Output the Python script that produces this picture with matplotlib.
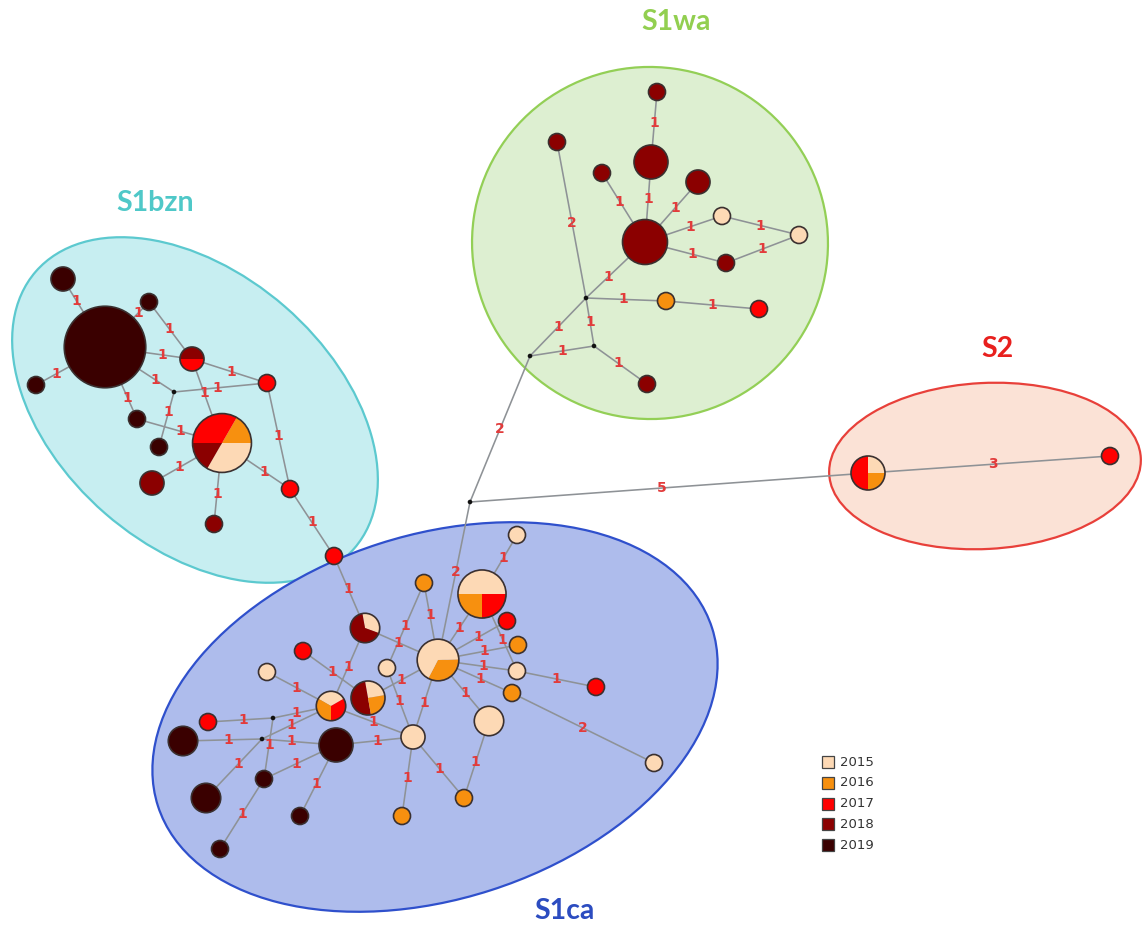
import numpy as np
import matplotlib.pyplot as plt
from matplotlib.patches import Circle, Wedge, Ellipse

# sampling years and their colours
years = ['2015', '2016', '2017', '2018', '2019']
year_colors = ['#FDD9B5', '#F7900F', '#FF0000', '#8B0000', '#3A0000']

# haplotypes: id, position, (year, count) slices in drawing order, start angle of first slice
node_id = ['bz1', 'bz2', 'bz3', 'bz4', 'bz5', 'bz6', 'bz7', 'bz8', 'bz9', 'bz10', 'bz11', 'bz12', 'bz13',
           'wa1', 'wa2', 'wa3', 'wa4', 'wa5', 'wa6', 'wa7', 'wa8', 'wa9', 'wa10', 'wa11', 'wa12',
           's2a', 's2b',
           'ca1', 'ca2', 'ca3', 'ca4', 'ca5', 'ca6', 'ca7', 'ca8', 'ca9', 'ca10', 'ca11', 'ca12', 'ca13',
           'ca14', 'ca15', 'ca16', 'ca17', 'ca18', 'ca19', 'ca20', 'ca21', 'ca22', 'ca23', 'ca24', 'ca25',
           'ca26', 'ca27']
node_x = [105, 63, 149, 36, 192, 267, 137, 159, 222, 152, 214, 290, 334,
          657, 557, 651, 602, 698, 722, 799, 645, 726, 666, 759, 647,
          868, 1110,
          517, 424, 482, 507, 518, 365, 303, 267, 387, 438, 517, 596, 512,
          331, 368, 489, 208, 183, 336, 413, 654, 264, 206, 464, 300,
          402, 220]
node_y = [347, 279, 302, 385, 359, 383, 419, 447, 443, 483, 524, 489, 556,
          92, 142, 162, 173, 182, 216, 235, 242, 263, 301, 309, 384,
          473, 456,
          535, 583, 594, 621, 645, 628, 651, 672, 668, 660, 671, 687, 693,
          706, 698, 721, 722, 741, 745, 737, 763, 779, 798, 798, 816,
          816, 849]
node_freq = [
    [(2019, 23)], [(2019, 2)], [(2019, 1)], [(2019, 1)], [(2018, 1), (2017, 1)], [(2017, 1)],
    [(2019, 1)], [(2019, 1)], [(2015, 4), (2016, 2), (2017, 4), (2018, 2)], [(2018, 2)],
    [(2018, 1)], [(2017, 1)], [(2017, 1)],
    [(2018, 1)], [(2018, 1)], [(2018, 4)], [(2018, 1)], [(2018, 2)], [(2015, 1)], [(2015, 1)],
    [(2018, 7)], [(2018, 1)], [(2016, 1)], [(2017, 1)], [(2018, 1)],
    [(2015, 1), (2017, 2), (2016, 1)], [(2017, 1)],
    [(2015, 1)], [(2016, 1)], [(2015, 4), (2016, 2), (2017, 2)], [(2017, 1)], [(2016, 1)],
    [(2015, 1), (2018, 2)], [(2017, 1)], [(2015, 1)], [(2015, 1)], [(2016, 2), (2015, 4)],
    [(2015, 1)], [(2017, 1)], [(2016, 1)],
    [(2015, 1), (2016, 1), (2017, 1)], [(2015, 1), (2018, 2), (2016, 1)], [(2015, 3)],
    [(2017, 1)], [(2019, 3)], [(2019, 4)], [(2015, 2)], [(2015, 1)], [(2019, 1)], [(2019, 3)],
    [(2016, 1)], [(2019, 1)], [(2016, 1)], [(2019, 1)]]
node_turn = {'bz5': 0, 'bz9': 240, 's2a': 0, 'ca3': 0, 'ca6': -20, 'ca10': 242, 'ca14': 30, 'ca15': 10}

# median vectors
med_id = ['mbz', 'mwa1', 'mwa2', 'mwa3', 'hub', 'mca1', 'mca2']
med_x = [174, 586, 594, 530, 470, 273, 262]
med_y = [392, 298, 346, 356, 502, 718, 739]

# links and number of mutational steps
edges = [
    ('bz1', 'bz2', 1), ('bz1', 'bz3', 1), ('bz1', 'bz4', 1), ('bz1', 'bz5', 1), ('bz1', 'mbz', 1),
    ('bz1', 'bz7', 1), ('bz3', 'bz5', 1), ('bz5', 'bz6', 1), ('mbz', 'bz6', 1), ('bz5', 'bz9', 1),
    ('mbz', 'bz8', 1), ('bz7', 'bz9', 1), ('bz9', 'bz10', 1), ('bz9', 'bz11', 1), ('bz9', 'bz12', 1),
    ('bz6', 'bz12', 1), ('bz12', 'bz13', 1), ('bz13', 'ca6', 1),
    ('wa1', 'wa3', 1), ('wa3', 'wa8', 1), ('wa4', 'wa8', 1), ('wa5', 'wa8', 1), ('wa8', 'wa6', 1),
    ('wa6', 'wa7', 1), ('wa8', 'wa9', 1), ('wa9', 'wa7', 1), ('wa8', 'mwa1', 1), ('mwa1', 'wa2', 2),
    ('mwa1', 'wa10', 1), ('wa10', 'wa11', 1), ('mwa1', 'mwa3', 1), ('mwa1', 'mwa2', 1),
    ('mwa3', 'mwa2', 1), ('mwa2', 'wa12', 1), ('mwa3', 'hub', 2),
    ('hub', 's2a', 5), ('hub', 'ca10', 2), ('s2a', 's2b', 3),
    ('ca1', 'ca3', 1), ('ca2', 'ca10', 1), ('ca2', 'ca9', 1), ('ca3', 'ca10', 1), ('ca4', 'ca10', 1),
    ('ca5', 'ca10', 1), ('ca11', 'ca10', 1), ('ca13', 'ca10', 1), ('ca16', 'ca10', 1),
    ('ca3', 'ca11', 1), ('ca11', 'ca12', 1), ('ca13', 'ca21', 2), ('ca6', 'ca10', 1),
    ('ca6', 'ca14', 1), ('ca7', 'ca15', 1), ('ca8', 'ca14', 1), ('ca15', 'ca10', 1),
    ('ca9', 'ca20', 1), ('ca10', 'ca20', 1), ('ca14', 'ca20', 1), ('ca19', 'ca20', 1),
    ('ca17', 'mca1', 1), ('mca1', 'ca14', 1), ('mca1', 'ca22', 1), ('ca18', 'mca2', 1),
    ('mca2', 'ca23', 1), ('mca2', 'ca14', 1), ('mca2', 'ca19', 1), ('ca22', 'ca19', 1),
    ('ca22', 'ca27', 1), ('ca19', 'ca25', 1), ('ca20', 'ca26', 1), ('ca20', 'ca24', 1),
    ('ca16', 'ca24', 1)]

# clusters
group_names = ['S1bzn', 'S1wa', 'S2', 'S1ca']
group_label_xy = [(155, 203), (676, 22), (997, 349), (565, 911)]
group_text_colors = ['#4FC8C8', '#92CF50', '#E8201E', '#2C4CC0']

fig = plt.figure(figsize=(11.42, 9.26), dpi=100)
ax = fig.add_axes([0, 0, 1, 1])
ax.set_xlim(0, 1142)
ax.set_ylim(926, 0)
ax.axis('off')

# cluster ellipses (drawn first, behind everything)
ell = [
    ((650, 243), 356, 352, 8, '#DDEFD1', '#93CF56'),
    ((985, 466), 312, 166, -3, '#FBE2D6', '#E8403A'),
    ((195, 410), 422, 274, 41, '#C7EEF1', '#5CC9CF'),
    ((435, 717), 582, 364, -17.8, '#AEBCEC', '#2F50CC'),
]
for c, w, h, a, fc, ec in ell:
    ax.add_patch(Ellipse(c, w, h, angle=a, facecolor=fc, edgecolor=ec, lw=1.6, zorder=1))

for name, (tx, ty), col in zip(group_names, group_label_xy, group_text_colors):
    ax.text(tx, ty, name, color=col, fontsize=20.5, fontweight='bold', family='Lato',
            ha='center', va='center')

pos = {n: (x, y) for n, x, y in zip(node_id, node_x, node_y)}
pos.update({n: (x, y) for n, x, y in zip(med_id, med_x, med_y)})


def radius(n):
    if n in med_id:
        return 2.3
    freq = node_freq[node_id.index(n)]
    return 8.5 * np.sqrt(sum(c for _, c in freq))


# where along the visible part of a link its label sits (default: middle)
label_frac = {('bz7', 'bz9'): 0.72, ('mbz', 'bz8'): 0.4}

# links with mutation counts
for a, b, steps in edges:
    (x1, y1), (x2, y2) = pos[a], pos[b]
    ax.plot([x1, x2], [y1, y2], color='#8E9296', lw=1.15, zorder=2, solid_capstyle='round')
    d = np.hypot(x2 - x1, y2 - y1)
    ux, uy = (x2 - x1) / d, (y2 - y1) / d
    ra, rb = radius(a), radius(b)
    t = ra + (d - ra - rb) * label_frac.get((a, b), 0.5)
    ax.text(x1 + ux * t, y1 + uy * t, str(steps), color='#E23B3B', fontsize=10,
            fontweight='bold', ha='center', va='center', zorder=3)

# haplotype pies, area proportional to frequency
for n, x, y, freq in zip(node_id, node_x, node_y, node_freq):
    total = sum(c for _, c in freq)
    r = 8.5 * np.sqrt(total)
    if len(freq) == 1:
        col = year_colors[years.index(str(freq[0][0]))]
        ax.add_patch(Circle((x, y), r, facecolor=col, edgecolor='#3A3030', lw=1.2, zorder=4))
        continue
    s = node_turn.get(n, 90)
    for yr, c in freq:
        e = s + 360.0 * c / total
        # y axis is flipped, so screen angles map to negative data angles
        ax.add_patch(Wedge((x, y), r, -e, -s, facecolor=year_colors[years.index(str(yr))],
                           edgecolor='none', zorder=4))
        s = e
    ax.add_patch(Circle((x, y), r, facecolor='none', edgecolor='#3A3030', lw=1.2, zorder=5))

for x, y in zip(med_x, med_y):
    ax.add_patch(Circle((x, y), 2.3, facecolor='#111111', edgecolor='none', zorder=4))

# legend
for i, (yr, col) in enumerate(zip(years, year_colors)):
    ly = 762 + i * 20.8
    ax.add_patch(plt.Rectangle((822, ly - 6), 12, 12, facecolor=col, edgecolor='#444444', lw=0.9, zorder=4))
    ax.text(840, ly, yr, fontsize=9.5, color='#333333', va='center', ha='left')

fig.savefig('out.png', dpi=100)
